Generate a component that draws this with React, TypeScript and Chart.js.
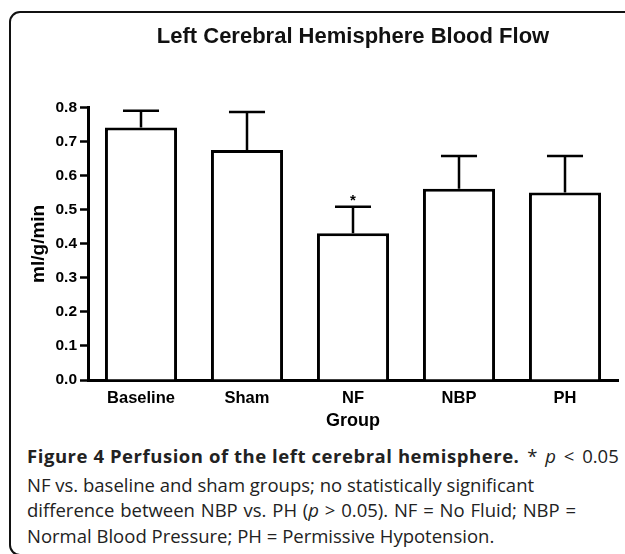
import React, { useEffect, useRef } from "react";
import { Chart, registerables } from "chart.js";

Chart.register(...registerables);

const categories = ["Baseline", "Sham", "NF", "NBP", "PH"];
const means = [0.742, 0.676, 0.431, 0.562, 0.551];
const errors = [0.049, 0.111, 0.078, 0.096, 0.107];
const marks = ["", "", "*", "", ""];
const yMin = 0;
const yMax = 0.8;
const yStep = 0.1;

const chartTitle = "Left Cerebral Hemisphere Blood Flow";
const yTitle = "ml/g/min";
const xTitle = "Group";

const AX_FONT = "'Liberation Sans', Arial, sans-serif";

const titlePlugin = {
  id: "centeredTitle",
  afterDraw(chart: any) {
    const { ctx, chartArea } = chart;
    ctx.save();
    ctx.fillStyle = "#111";
    ctx.font = `bold 22px ${AX_FONT}`;
    ctx.textAlign = "center";
    ctx.textBaseline = "middle";
    ctx.fillText(chartTitle, (chartArea.left + chartArea.right) / 2, 37);
    ctx.restore();
  },
};

const errorBarPlugin = {
  id: "errorBars",
  afterDatasetsDraw(chart: any) {
    const meta = chart.getDatasetMeta(0);
    const yScale = chart.scales.y;
    const ctx = chart.ctx;
    ctx.save();
    ctx.strokeStyle = "#000";
    ctx.lineWidth = 2.5;
    meta.data.forEach((bar: any, i: number) => {
      const x = bar.x;
      const yBar = bar.y;
      const yTop = yScale.getPixelForValue(means[i] + errors[i]);
      const half = bar.width / 4;
      ctx.beginPath();
      ctx.moveTo(x, yBar);
      ctx.lineTo(x, yTop);
      ctx.moveTo(x - half, yTop);
      ctx.lineTo(x + half, yTop);
      ctx.stroke();
      if (marks[i]) {
        ctx.fillStyle = "#000";
        ctx.font = `bold 15px ${AX_FONT}`;
        ctx.textAlign = "center";
        ctx.textBaseline = "alphabetic";
        ctx.fillText(marks[i], x, yTop - 1.5);
      }
    });
    ctx.restore();
  },
};

function BarChart() {
  const ref = useRef<HTMLCanvasElement>(null);
  useEffect(() => {
    if (!ref.current) return;
    const chart = new Chart(ref.current, {
      type: "bar",
      data: {
        labels: categories,
        datasets: [
          {
            data: means,
            backgroundColor: "#fff",
            borderColor: "#000",
            borderWidth: 3,
            barPercentage: 0.68,
            categoryPercentage: 1,
          },
        ],
      },
      options: {
        animation: false,
        responsive: false,
        maintainAspectRatio: false,
        layout: { padding: { left: 0, right: 7, top: 107.7, bottom: 0 } },
        plugins: {
          legend: { display: false },
          tooltip: { enabled: false },
          title: { display: false },
        },
        scales: {
          x: {
            grid: { display: false, drawTicks: false },
            border: { display: true, color: "#000", width: 3 },
            ticks: {
              color: "#000",
              font: { family: AX_FONT, size: 16.5, weight: "bold" },
              padding: 9,
            },
            title: {
              display: true,
              text: xTitle,
              color: "#000",
              font: { family: AX_FONT, size: 18, weight: "bold" },
              padding: { top: 2, bottom: 8 },
            },
            afterFit(scale: any) {
              scale.height = 60;
            },
          },
          y: {
            min: yMin,
            max: yMax,
            grid: {
              display: true,
              drawOnChartArea: false,
              drawTicks: true,
              tickLength: 8,
              tickWidth: 2.5,
              tickColor: "#000",
            },
            border: { display: true, color: "#000", width: 3 },
            ticks: {
              stepSize: yStep,
              color: "#000",
              font: { family: AX_FONT, size: 15.5, weight: "bold" },
              padding: 3,
              callback: (v: any) => Number(v).toFixed(1),
            },
            title: {
              display: true,
              text: yTitle,
              color: "#000",
              font: { family: AX_FONT, size: 19, weight: "bold" },
              padding: { top: 27.5, bottom: 0 },
            },
            afterFit(scale: any) {
              scale.width = 88;
            },
          },
        },
      },
      plugins: [errorBarPlugin, titlePlugin],
    });
    return () => chart.destroy();
  }, []);
  return (
    <canvas
      ref={ref}
      width={625}
      height={440}
      style={{ position: "absolute", left: 0, top: 0, width: 625, height: 440 }}
    />
  );
}

export default function App() {
  const cap: React.CSSProperties = {
    position: "absolute",
    left: 27,
    whiteSpace: "nowrap",
    fontFamily: "'Open Sans', sans-serif",
    fontSize: 18.5,
    lineHeight: "26px",
    color: "#222",
  };
  return (
    <div
      style={{
        position: "fixed",
        left: 0,
        top: 0,
        width: 625,
        height: 554,
        background: "#fff",
        overflow: "hidden",
      }}
    >
      <div
        style={{
          position: "absolute",
          left: 9,
          top: 11,
          width: 700,
          height: 545,
          border: "2px solid #111",
          borderRadius: 11,
          boxSizing: "border-box",
        }}
      />
      <BarChart />
      <div style={{ ...cap, top: 443 }}>
        <b style={{ letterSpacing: "0.55px" }}>
          Figure 4 Perfusion of the left cerebral hemisphere.
        </b>
        <span style={{ wordSpacing: "3px" }}>
          {" "}* <i>p</i> &lt; 0.05
        </span>
      </div>
      <div style={{ ...cap, top: 472 }}>
        NF vs. baseline and sham groups; no statistically significant
      </div>
      <div style={{ ...cap, top: 497, wordSpacing: "1px" }}>
        difference between NBP vs. PH (<i>p</i> &gt; 0.05). NF = No Fluid; NBP =
      </div>
      <div style={{ ...cap, top: 523 }}>
        Normal Blood Pressure; PH = Permissive Hypotension.
      </div>
    </div>
  );
}
